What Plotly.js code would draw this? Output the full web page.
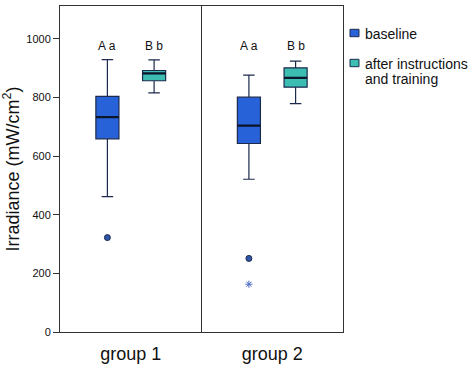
<!DOCTYPE html>
<html>
<head>
<meta charset="utf-8">
<script src="https://cdn.plot.ly/plotly-3.0.1.min.js"></script>
<style>html,body{margin:0;padding:0;background:#fff;}#chart{width:474px;height:367px;}</style>
</head>
<body>
<div id="chart"></div>
<script>
// ---- data ----
const groups = ["group 1", "group 2"];
const seriesNames = ["baseline", "after instructions<br>and training"];
const baselineQ1 = [659, 643];
const baselineMedian = [733, 704];
const baselineQ3 = [804, 801];
const baselineLow = [462, 521];
const baselineHigh = [929, 876];
const afterQ1 = [857, 835];
const afterMedian = [882, 867];
const afterQ3 = [892, 901];
const afterLow = [816, 779];
const afterHigh = [928, 924];
const outlierGroup = [0, 1];          // group index of circle outliers (baseline)
const outlierValue = [322, 251];
const extremeGroup = [1];             // group index of extreme values (baseline)
const extremeValue = [163];
const letterBaseline = ["A a", "A a"];
const letterAfter = ["B b", "B b"];
const letterLevel = 976;
const yTicks = [0, 200, 400, 600, 800, 1000];

// ---- layout helpers ----
const OFF = 0.165, BW = 0.163;
const pos = groups.map((g, i) => i + 1);
const font = "Liberation Sans, Arial, sans-serif";
const blue = "#2862d8", teal = "#3bbdb2", edge = "#1c2a4e";
const colors = [blue, teal];

const traces = [];
const stats = [
  [baselineQ1, baselineMedian, baselineQ3, baselineLow, baselineHigh],
  [afterQ1, afterMedian, afterQ3, afterLow, afterHigh]
];
stats.forEach((s, k) => {
  const sign = k === 0 ? -1 : 1;
  traces.push({
    type: "box",
    name: seriesNames[k],
    showlegend: false,
    x: pos.map(p => p + sign * OFF),
    q1: s[0], median: s[1], q3: s[2], lowerfence: s[3], upperfence: s[4],
    width: BW,
    whiskerwidth: 0.5,
    fillcolor: colors[k],
    line: {color: edge, width: 1.2},
    boxpoints: false,
    hoverinfo: "skip"
  });
});
// thicker median bars, drawn from the median arrays
stats.forEach((s, k) => {
  const sign = k === 0 ? -1 : 1;
  const xs = [], ys = [];
  pos.forEach((p, i) => {
    const c = p + sign * OFF;
    xs.push(c - BW / 2, c + BW / 2, null);
    ys.push(s[1][i], s[1][i], null);
  });
  traces.push({type: "scatter", mode: "lines", showlegend: false, hoverinfo: "skip",
    x: xs, y: ys, line: {color: "#0c1428", width: 2.2}});
});
traces.push({
  type: "scatter", mode: "markers", showlegend: false, hoverinfo: "skip",
  x: outlierGroup.map(i => pos[i] - OFF), y: outlierValue,
  marker: {symbol: "circle", size: 6, color: "#2d55a8", line: {color: "#1c2a4e", width: 1}}
});
traces.push({
  type: "scatter", mode: "markers", showlegend: false, hoverinfo: "skip",
  x: extremeGroup.map(i => pos[i] - OFF), y: extremeValue,
  marker: {symbol: "asterisk-open", size: 6, color: "#4a6cc4", line: {color: "#4a6cc4", width: 1}}
});

const annotations = [];
pos.forEach((p, i) => {
  annotations.push({x: p - OFF, y: letterLevel, text: letterBaseline[i], showarrow: false, font: {family: font, size: 12, color: "#111"}});
  annotations.push({x: p + OFF, y: letterLevel, text: letterAfter[i], showarrow: false, font: {family: font, size: 12, color: "#111"}});
});

// ---- legend (drawn in paper coordinates) ----
const legSquares = [[0.9058, 0.9285], [0.8138, 0.8365]];
const legLineY = [[0.9156], [0.8236, 0.7776]];
const shapes = [{type: "line", xref: "x", yref: "paper", x0: 1.5, x1: 1.5, y0: 0, y1: 1, line: {color: "#333", width: 1}}];
seriesNames.forEach((nm, k) => {
  shapes.push({type: "rect", xref: "paper", yref: "paper", x0: 1.0247, x1: 1.0565,
    y0: legSquares[k][0], y1: legSquares[k][1], fillcolor: colors[k], line: {color: edge, width: 1}});
  nm.split("<br>").forEach((ln, j) => {
    annotations.push({xref: "paper", yref: "paper", x: 1.0707, y: legLineY[k][j], xanchor: "left", yanchor: "middle",
      text: ln, showarrow: false, font: {family: font, size: 14, color: "#111"}});
  });
});

const layout = {
  width: 474, height: 367,
  margin: {l: 60, r: 131, t: 6, b: 35},
  paper_bgcolor: "#fff", plot_bgcolor: "#fff",
  font: {family: font, color: "#111"},
  showlegend: false,
  xaxis: {
    range: [0.5, 2.5], tickvals: pos, ticktext: groups, ticks: "", ticklabelstandoff: 5,
    showgrid: false, zeroline: false, showline: true, mirror: true, linecolor: "#333", linewidth: 1,
    tickfont: {family: font, size: 18, color: "#111"}
  },
  yaxis: {
    range: [0, 1112], tickvals: yTicks, ticks: "outside", ticklen: 6, tickcolor: "#333",
    showgrid: false, zeroline: false, showline: true, mirror: true, linecolor: "#333", linewidth: 1,
    tickfont: {family: font, size: 11, color: "#111"},
    title: {text: "Irradiance (mW/cm<sup>2</sup>)", font: {family: font, size: 18, color: "#111"}, standoff: 6}
  },
  shapes: shapes,
  annotations: annotations
};
Plotly.newPlot("chart", traces, layout, {displayModeBar: false, staticPlot: true});
</script>
</body>
</html>
